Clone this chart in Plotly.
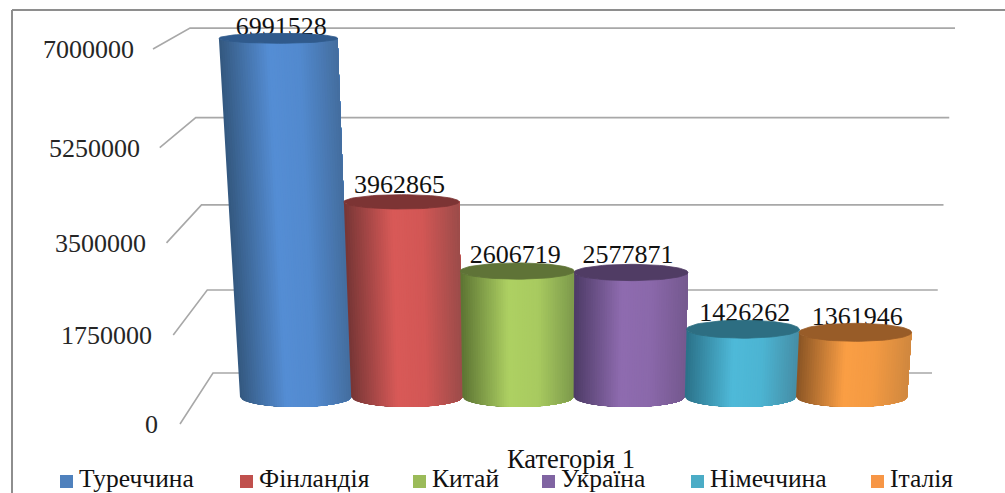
"""3D-look cylinder column chart, drawn on a value axis with a small perspective projection."""
import numpy as np
import plotly.graph_objects as go

# ── DATA ───────────────────────────────────────────────────────
COUNTRIES = ['Туреччина', 'Фінландія', 'Китай', 'Україна', 'Німеччина', 'Італія']
VALUES = [6991528, 3962865, 2606719, 2577871, 1426262, 1361946]
TICKS = [0, 1750000, 3500000, 5250000, 7000000]
CATEGORY = 'Категорія 1'

# ── STYLE ──────────────────────────────────────────────────────
W, H = 1005, 493
FONT = 'Liberation Serif, Times New Roman, serif'
VALUE_SIZE = 26
LEGEND_SIZE = 25.5
GRID = '#a8a8a8'
FRAME = '#8e8e8e'

# left edge, highlight, right edge, top cap
SHADES = [
    ('#34587f', '#558ed5', '#446e9f', '#305a8c'),
    ('#763636', '#d95a58', '#9c4c4a', '#7c3434'),
    ('#5c7433', '#aed163', '#7d9a4c', '#5f7337'),
    ('#4d3b66', '#8f6cb0', '#75598f', '#503c64'),
    ('#2b7189', '#4fbad9', '#468ea6', '#2d6e82'),
    ('#8a5525', '#fb9f45', '#d0883f', '#985c28'),
]
LEGEND_COLORS = ['#4f81bd', '#c0504d', '#9bbb59', '#8064a2', '#4bacc6', '#f79646']
LEGEND_X = [60, 240, 413, 542, 691, 871]
LABEL_GAP = [10, 15, 15, 16, 15, 14]  # px from column top to its value label
LABEL_DX = [3, -2, -2, -3, 2, 2]      # px sideways, labels do not sit dead centre

# ── PROJECTION ─────────────────────────────────────────────────
PX_PER_UNIT = 5.0e-5   # front plane scale of the y axis
FLOOR_PY = 397         # pixel row of value 0 at the column feet
SLOT_X0, SLOT_W = 240, 111.2
VANISH_X = 550
N_STRIPS = 48


def px(p):
    """Pixel length to axis units."""
    return p / PX_PER_UNIT


def column_height(v):
    return v * (0.931 + 0.0136 * v / 1e6)


def lean(x, v):
    """Columns converge towards a vanishing point as they get taller."""
    return (x - VANISH_X) * 1.9e-4 * column_height(v) * PX_PER_UNIT


def cap_minor(v):
    return 10 - 5 * v / 7e6


def hex_rgb(c):
    return np.array([int(c[i:i + 2], 16) for i in (1, 3, 5)], dtype=float)


def shade(colors, u):
    left, mid, right = (hex_rgb(c) for c in colors[:3])
    rgb = [np.interp(u, [0, 0.42, 0.68, 1], [left[c], mid[c], mid[c] * 0.97, right[c]]) for c in range(3)]
    return 'rgb(%d,%d,%d)' % tuple(rgb)


fig = go.Figure()

# back wall grid, with the slanted run towards the tick label
tick_x, tick_y = [], []
for t in TICKS:
    s = t / 7e6
    front_x, back_x, right_x = 180 - 27 * s, 213 - 23 * s, 932 + 23 * s
    front_y = -540000 + 0.999 * t + 1.032e-8 * t ** 2
    wall_y = 480000 + 0.936 * t + 7.05e-9 * t ** 2
    fig.add_trace(go.Scatter(
        x=[front_x, back_x, right_x], y=[front_y, wall_y, wall_y], mode='lines',
        line=dict(color=GRID, width=1.6), hoverinfo='skip', showlegend=False,
    ))
    tick_x.append(front_x - 22 + 3 * s)
    tick_y.append(front_y - px(2.5))

fig.add_trace(go.Scatter(
    x=tick_x, y=tick_y, mode='text', text=[str(t) for t in TICKS],
    textposition='middle left', textfont=dict(family=FONT, size=VALUE_SIZE, color='#262626'),
    hoverinfo='skip', showlegend=False,
))

# value labels go under the columns, the caps clip their lower edge
label_x, label_y = [], []
for i, v in enumerate(VALUES):
    xl, xr = SLOT_X0 + i * SLOT_W, SLOT_X0 + (i + 1) * SLOT_W
    label_x.append((xl + lean(xl, v) + xr + lean(xr, v)) / 2 + LABEL_DX[i])
    label_y.append(column_height(v) + px(LABEL_GAP[i]))
fig.add_trace(go.Scatter(
    x=label_x, y=label_y, mode='text', text=[str(v) for v in VALUES],
    textposition='middle center', textfont=dict(family=FONT, size=VALUE_SIZE, color='#111111'),
    hoverinfo='skip', showlegend=False,
))

# cylinders
for i, (name, v) in enumerate(zip(COUNTRIES, VALUES)):
    xl, xr = SLOT_X0 + i * SLOT_W, SLOT_X0 + (i + 1) * SLOT_W
    txl, txr = xl + lean(xl, v), xr + lean(xr, v)
    top = column_height(v)
    bot_minor, top_minor = px(10), px(cap_minor(v))

    u = np.linspace(0, 1, N_STRIPS + 1)
    root = np.sqrt(np.clip(1 - (2 * u - 1) ** 2, 0, 1))
    bx, tx = xl + (xr - xl) * u, txl + (txr - txl) * u
    by, ty = -bot_minor * root, top - top_minor * root

    # each strip runs to the right edge and the next paints over it, so no seams show
    for k in range(N_STRIPS):
        col = shade(SHADES[i], (k + 0.5) / N_STRIPS)
        fig.add_trace(go.Scatter(
            x=np.concatenate([bx[k:], tx[k:][::-1], bx[k:k + 1]]),
            y=np.concatenate([by[k:], ty[k:][::-1], by[k:k + 1]]),
            mode='lines', fill='toself', fillcolor=col, line=dict(width=0),
            hoverinfo='skip', showlegend=False,
        ))

    theta = np.linspace(0, 2 * np.pi, 73)
    fig.add_trace(go.Scatter(
        x=(txl + txr) / 2 + (txr - txl) / 2 * np.cos(theta),
        y=top + top_minor * np.sin(theta),
        mode='lines', fill='toself', fillcolor=SHADES[i][3], line=dict(color=SHADES[i][3], width=0.8),
        name=name, hovertemplate=f'{name}: {v}<extra></extra>', showlegend=False,
    ))

# frame, legend and category caption sit in paper space
shapes = [
    dict(type='line', xref='paper', yref='paper', x0=12 / W, x1=12 / W, y0=0, y1=1 - 10 / H,
         line=dict(color=FRAME, width=2)),
    dict(type='line', xref='paper', yref='paper', x0=12 / W, x1=1, y0=1 - 10 / H, y1=1 - 10 / H,
         line=dict(color=FRAME, width=2)),
]
annotations = [dict(
    text=CATEGORY, x=571 / W, y=1 - 459 / H, xref='paper', yref='paper', showarrow=False,
    xanchor='center', yanchor='middle', font=dict(family=FONT, size=26.5, color='#111111'),
)]
for i, name in enumerate(COUNTRIES):
    lx = LEGEND_X[i]
    shapes.append(dict(
        type='rect', xref='paper', yref='paper', x0=lx / W, x1=(lx + 13) / W,
        y0=1 - 488 / H, y1=1 - 475 / H, fillcolor=LEGEND_COLORS[i], line=dict(width=0),
    ))
    annotations.append(dict(
        text=name, x=(lx + 17) / W, y=1 - 478.5 / H, xref='paper', yref='paper', showarrow=False,
        xanchor='left', yanchor='middle', font=dict(family=FONT, size=LEGEND_SIZE, color='#111111'),
    ))

fig.update_layout(
    width=W, height=H,
    margin=dict(l=0, r=0, t=0, b=0),
    paper_bgcolor='white', plot_bgcolor='white',
    xaxis=dict(range=[0, W], visible=False),
    yaxis=dict(range=[px(FLOOR_PY - H), px(FLOOR_PY)], visible=False),
    showlegend=False,
    shapes=shapes,
    annotations=annotations,
)

fig.write_html(
    'out.html',
    config=dict(displayModeBar=False),
    post_script="document.body.style.margin='0';",
)
